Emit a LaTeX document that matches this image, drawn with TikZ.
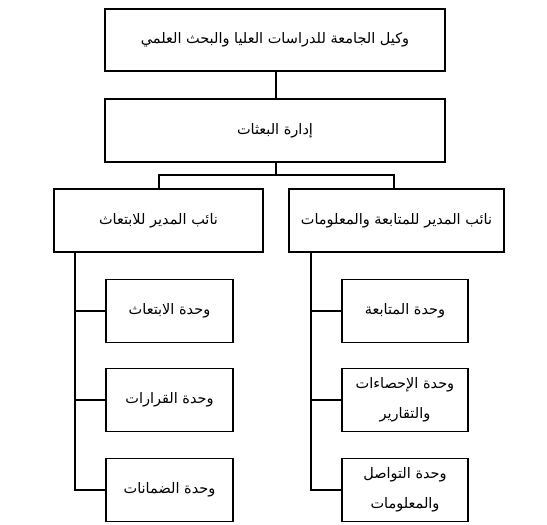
\documentclass[tikz,border=0pt]{standalone}
\usepackage{fontspec}
\newfontfamily\arabicfont[Script=Arabic]{DejaVu Sans}
\TeXXeTstate=1
\begin{document}
\begin{tikzpicture}[x=1pt,y=-1pt,
  box/.style={draw=black,line width=1.4pt,fill=white,inner sep=2pt,align=center,font=\arabicfont\fontsize{14.5}{30}\selectfont},
  conn/.style={draw=black,line width=1.4pt}]
\useasboundingbox (0,0) rectangle (547,525);
\node[box,minimum width=340pt,minimum height=62pt] (top) at (275,40) {\beginR وكيل الجامعة للدراسات العليا والبحث العلمي\endR};
\node[box,minimum width=340pt,minimum height=63pt] (bi) at (275,130.5) {\beginR إدارة البعثات\endR};
\node[box,minimum width=209pt,minimum height=63pt] (lm) at (158.5,220.5) {\beginR نائب المدير للابتعاث\endR};
\node[box,minimum width=215pt,minimum height=63pt] (rm) at (396.5,220.5) {\beginR نائب المدير للمتابعة والمعلومات\endR};
\node[box,minimum width=127pt,minimum height=63pt] (l1) at (169.5,311) {\beginR وحدة الابتعاث\endR};
\node[box,minimum width=127pt,minimum height=63pt] (l2) at (169.5,400) {\beginR وحدة القرارات\endR};
\node[box,minimum width=127pt,minimum height=63pt] (l3) at (169.5,490) {\beginR وحدة الضمانات\endR};
\node[box,minimum width=126pt,minimum height=63pt] (r1) at (405,311) {\beginR وحدة المتابعة\endR};
\node[box,minimum width=126pt,minimum height=63pt] (r2) at (405,400) {\beginR وحدة الإحصاءات\endR\\\beginR والتقارير\endR};
\node[box,minimum width=126pt,minimum height=63pt] (r3) at (405,490) {\beginR وحدة التواصل\endR\\\beginR والمعلومات\endR};
\coordinate (bar) at (276,175);
\coordinate (tl) at (75,252);
\coordinate (tr) at (311,252);
\draw[conn] (top.south -| bar) -- (bi.north -| bar);
\draw[conn] (bi.south -| bar) -- (bar);
\draw[conn] (lm.north -| 159,0) |- (bar) -| (rm.north -| 394,0);
\draw[conn] (tl) |- (l3.west);
\draw[conn] (tl |- l1.west) -- (l1.west);
\draw[conn] (tl |- l2.west) -- (l2.west);
\draw[conn] (tr) |- (r3.west);
\draw[conn] (tr |- r1.west) -- (r1.west);
\draw[conn] (tr |- r2.west) -- (r2.west);
\end{tikzpicture}
\end{document}
